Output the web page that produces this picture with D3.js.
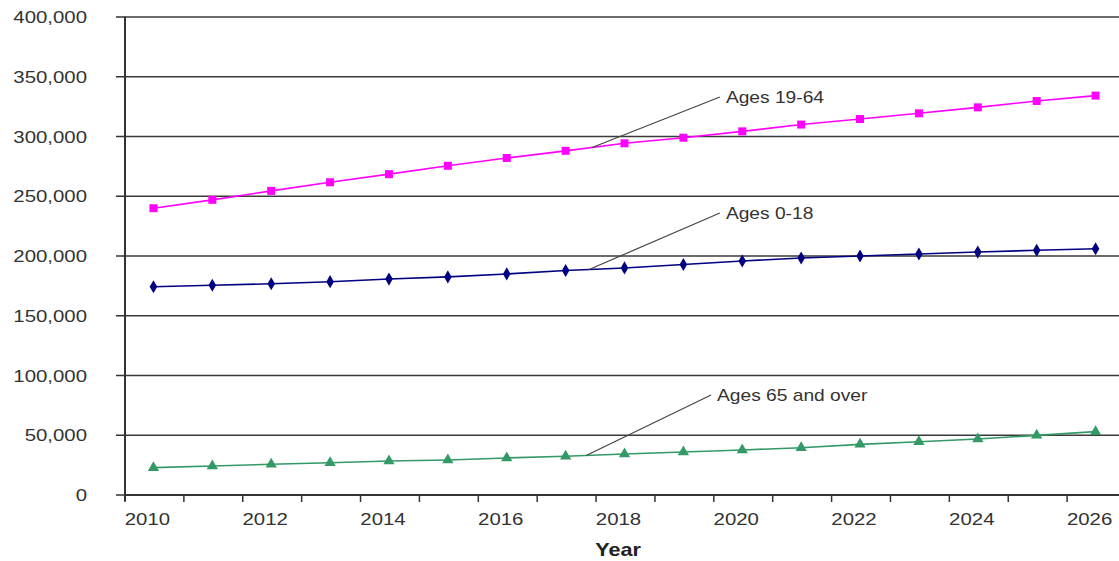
<!DOCTYPE html>
<html>
<head>
<meta charset="utf-8">
<script src="https://cdn.jsdelivr.net/npm/d3@7/dist/d3.min.js"></script>
<style>
  html, body { margin: 0; padding: 0; background: #fff; }
  svg { display: block; font-family: "Liberation Sans", Arial, sans-serif; }
</style>
</head>
<body>
<svg id="chart" width="1119" height="561"></svg>
<script>
// Projected population by age group, 2010-2026
const years = [2010, 2011, 2012, 2013, 2014, 2015, 2016, 2017, 2018,
               2019, 2020, 2021, 2022, 2023, 2024, 2025, 2026];
const ages19to64 = [240000, 247000, 254500, 261700, 268500, 275500, 282000, 288000, 294300,
                    299000, 304300, 310000, 314600, 319400, 324400, 329700, 334200];
const ages0to18 = [174300, 175500, 176800, 178500, 180700, 182500, 185000, 187900, 190000,
                   192900, 195800, 198300, 200000, 201700, 203300, 204800, 206100];
const ages65plus = [22900, 24300, 25700, 27000, 28500, 29300, 31000, 32400, 34300,
                    36000, 37700, 39600, 42400, 44600, 46900, 49900, 53000];
const yTicks = [0, 50000, 100000, 150000, 200000, 250000, 300000, 350000, 400000];
const xLabelYears = [2010, 2012, 2014, 2016, 2018, 2020, 2022, 2024, 2026];

const series = [
  { name: "Ages 19-64", values: ages19to64, color: "#ff00ff", marker: "square",
    anchorYear: 2017.45, labelYear: 2019.62, labelValue: 333000 },
  { name: "Ages 0-18", values: ages0to18, color: "#000080", marker: "diamond",
    anchorYear: 2017.4, labelYear: 2019.62, labelValue: 236000 },
  { name: "Ages 65 and over", values: ages65plus, color: "#339966", marker: "triangle",
    anchorYear: 2017.35, labelYear: 2019.47, labelValue: 83700 }
];

const svg = d3.select("#chart");
const plotLeft = 124, plotRight = 1125, plotTop = 17, plotBottom = 495;
const sx = 1.2; // horizontal text stretch

const x = d3.scaleBand().domain(years).range([plotLeft, plotRight]).paddingInner(0).paddingOuter(0);
const bw = x.bandwidth();
const cx = yr => x(yr) + bw / 2;
// continuous position for fractional years (callout anchors)
const xc = d3.scaleLinear().domain([2010, 2026]).range([cx(2010), cx(2026)]);
const y = d3.scaleLinear().domain([0, 400000]).range([plotBottom, plotTop]);

// Horizontal gridlines
svg.append("g").selectAll("line").data(yTicks.filter(d => d > 0)).join("line")
  .attr("x1", plotLeft).attr("x2", 1119)
  .attr("y1", d => y(d)).attr("y2", d => y(d))
  .attr("stroke", "#3a3a3a").attr("stroke-width", 1.5);

// Y axis
const yAxis = svg.append("g");
yAxis.append("line").attr("x1", plotLeft + 1).attr("x2", plotLeft + 1)
  .attr("y1", plotTop).attr("y2", plotBottom + 6)
  .attr("stroke", "#333").attr("stroke-width", 2);
yAxis.selectAll("line.tick").data(yTicks).join("line").attr("class", "tick")
  .attr("x1", plotLeft - 8).attr("x2", plotLeft + 1)
  .attr("y1", d => y(d)).attr("y2", d => y(d))
  .attr("stroke", "#333").attr("stroke-width", 1.5);
const fmt = d3.format(",");
yAxis.selectAll("text").data(yTicks).join("text")
  .attr("transform", d => `translate(${plotLeft - 37},${y(d)}) scale(${sx},1)`)
  .attr("dy", "0.36em")
  .attr("text-anchor", "end")
  .attr("font-size", 17)
  .attr("fill", "#333")
  .text(d => fmt(d));

// X axis
const xAxis = svg.append("g");
xAxis.append("line").attr("x1", plotLeft).attr("x2", 1119)
  .attr("y1", plotBottom).attr("y2", plotBottom)
  .attr("stroke", "#333").attr("stroke-width", 2);
xAxis.selectAll("line.tick").data(years).join("line").attr("class", "tick")
  .attr("x1", d => x(d) + 1).attr("x2", d => x(d) + 1)
  .attr("y1", plotBottom).attr("y2", plotBottom + 7)
  .attr("stroke", "#333").attr("stroke-width", 1.5);
xAxis.selectAll("text").data(xLabelYears).join("text")
  .attr("transform", d => `translate(${cx(d) - 6},${plotBottom + 30}) scale(${sx},1)`)
  .attr("text-anchor", "middle")
  .attr("font-size", 17)
  .attr("fill", "#333")
  .text(d => d);

svg.append("text")
  .attr("transform", `translate(618,${plotBottom + 61}) scale(${sx},1)`)
  .attr("text-anchor", "middle")
  .attr("font-size", 18)
  .attr("font-weight", "bold")
  .attr("fill", "#222")
  .text("Year");

// Lines and markers
const line = d3.line().x((d, i) => cx(years[i])).y(d => y(d));
const symbolFor = { square: d3.symbolSquare, diamond: d3.symbolDiamond, triangle: d3.symbolTriangle };
const sizeFor = { square: 64, diamond: 50, triangle: 55 };

series.forEach(s => {
  const g = svg.append("g");
  g.append("path").datum(s.values)
    .attr("d", line)
    .attr("fill", "none")
    .attr("stroke", s.color)
    .attr("stroke-width", 1.6);
  g.selectAll("path.m").data(s.values).join("path").attr("class", "m")
    .attr("transform", (d, i) => `translate(${cx(years[i])},${y(d)})`)
    .attr("d", d3.symbol().type(symbolFor[s.marker]).size(sizeFor[s.marker]))
    .attr("fill", s.color);
});

// Callout labels with leader lines
series.forEach(s => {
  const i0 = Math.floor(s.anchorYear - 2010);
  const t = s.anchorYear - 2010 - i0;
  const v = s.values[i0] + (s.values[i0 + 1] - s.values[i0]) * t;
  const ax = xc(s.anchorYear), ay = y(v);
  const lx = xc(s.labelYear), ly = y(s.labelValue);
  svg.append("line")
    .attr("x1", ax).attr("y1", ay).attr("x2", lx).attr("y2", ly)
    .attr("stroke", "#444").attr("stroke-width", 1.2);
  svg.append("text")
    .attr("transform", `translate(${lx + 6},${ly}) scale(${sx},1)`)
    .attr("dy", "0.36em")
    .attr("font-size", 16)
    .attr("fill", "#333")
    .text(s.name);
});
</script>
</body>
</html>
